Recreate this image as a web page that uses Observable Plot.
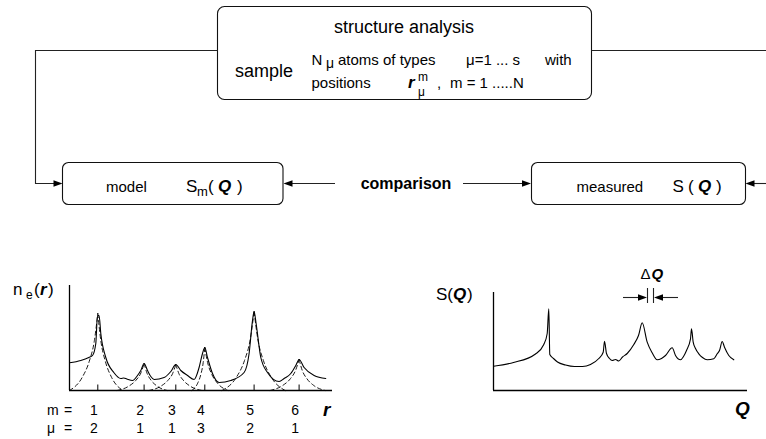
<!DOCTYPE html>
<html><head><meta charset="utf-8">
<script src="https://cdn.jsdelivr.net/npm/d3@7"></script>
<script src="https://cdn.jsdelivr.net/npm/@observablehq/plot@0.6"></script>
<style>
html,body{margin:0;padding:0;background:#fff;}
#wrap{position:relative;width:766px;height:439px;overflow:hidden;font-family:"Liberation Sans",Arial,Helvetica,sans-serif;}
#wrap > svg{position:absolute;}
</style></head><body>
<div id="wrap"></div>
<script>
// ---------- data: electron density n_e(r) ----------
const peakR   = [2.83, 7.46, 10.63, 13.53, 18.46, 22.96];
const mLabels = ["1", "2", "3", "4", "5", "6"];
const muLabels = ["2", "1", "1", "3", "2", "1"];

const solidR = [0, 1.13, 1.93, 2.3, 2.63, 2.8, 2.96, 3.13, 3.63, 4.43, 5.13, 5.43, 5.73, 6.3, 6.8, 7.13, 7.46, 7.8, 8.13, 8.46, 9.46, 10.13, 10.63, 11.13, 11.8, 12.46, 12.96, 13.3, 13.53, 13.8, 14.3, 14.96, 16.13, 17.46, 17.96, 18.3, 18.46, 18.66, 19.13, 19.8, 20.96, 21.46, 22.13, 22.63, 22.96, 23.46, 24.46, 25.63];
const solidN = [2.77, 3.0, 3.3, 3.5, 4.7, 7.5, 7.5, 5.7, 3.3, 1.8, 1.2, 1.25, 1.15, 1.0, 1.5, 2.0, 2.7, 2.0, 1.4, 1.1, 1.3, 1.9, 2.6, 2.0, 1.5, 1.1, 2.3, 3.7, 4.3, 3.3, 1.7, 0.8, 1.0, 1.8, 3.7, 7.0, 7.9, 6.7, 3.3, 1.8, 0.9, 1.2, 1.7, 2.5, 3.1, 2.3, 1.5, 1.2];

// single-atom contributions (dashed), one branch per array
const dashR = [
  [0, 1.27, 1.98, 2.49, 2.83], [2.83, 3.13, 3.58, 4.21, 5.33],
  [4.76, 5.97, 6.65, 7.14, 7.46], [7.46, 7.74, 8.15, 8.73, 9.76],
  [7.93, 9.15, 9.82, 10.31, 10.63], [10.63, 10.94, 11.41, 12.06, 13.23],
  [12.23, 12.82, 13.14, 13.37, 13.53], [13.53, 13.81, 14.22, 14.8, 15.83],
  [15.26, 16.7, 17.5, 18.08, 18.46], [18.46, 18.83, 19.39, 20.17, 21.56],
  [20.06, 21.36, 22.09, 22.61, 22.96], [22.96, 23.27, 23.74, 24.39, 25.56]
];
const dashN = [
  [0, 1.31, 2.93, 5.0, 7.7], [7.7, 5.0, 2.93, 1.31, 0],
  [0, 0.46, 1.03, 1.76, 2.7], [2.7, 1.76, 1.03, 0.46, 0],
  [0, 0.44, 0.99, 1.69, 2.6], [2.6, 1.69, 0.99, 0.44, 0],
  [0, 0.73, 1.63, 2.8, 4.3], [4.3, 2.8, 1.63, 0.73, 0],
  [0, 1.34, 3.0, 5.14, 7.9], [7.9, 5.14, 3.0, 1.34, 0],
  [0, 0.53, 1.18, 2.02, 3.1], [3.1, 2.02, 1.18, 0.53, 0]
];

// ---------- data: measured S(Q) ----------
const sQ = [0, 2.0, 4.2, 5.03, 5.37, 5.53, 5.63, 6.0, 6.4, 7.2, 8.1, 8.9, 9.7, 10.53, 10.97, 11.1, 11.3, 11.6, 11.87, 12.2, 12.53, 12.9, 13.37, 14.03, 14.5, 14.87, 15.37, 15.85, 16.37, 16.8, 17.2, 17.87, 18.2, 18.7, 19.0, 19.3, 19.7, 19.8, 19.97, 20.2, 20.53, 20.9, 21.37, 22.03, 22.37, 22.6, 22.87, 23.1, 23.53, 24.03];
const sS = [2.43, 2.8, 3.65, 4.6, 5.7, 8.17, 3.6, 3.2, 2.85, 2.55, 2.4, 2.4, 2.6, 3.2, 3.83, 4.93, 3.7, 3.2, 3.0, 3.1, 2.95, 3.35, 3.7, 4.6, 5.5, 6.77, 4.83, 3.8, 3.07, 3.2, 3.5, 4.27, 3.5, 3.07, 3.4, 4.0, 5.17, 6.17, 4.83, 4.2, 3.67, 3.3, 3.07, 3.17, 3.67, 4.0, 4.9, 4.33, 3.5, 3.07];

// ---------- build tables ----------
const solidData = solidR.map((r, i) => ({r, n: solidN[i]}));
const dashData = dashR.flatMap((xs, b) => xs.map((r, i) => ({r, n: dashN[b][i], branch: b})));
const peakData = peakR.map((r, i) => ({r, m: mLabels[i], mu: muLabels[i]}));
const sData = sQ.map((q, i) => ({q, s: sS[i]}));

const FONT = '"Liberation Sans", Arial, Helvetica, sans-serif';
const wrap = document.getElementById("wrap");

// ---------- left chart: n_e(r) ----------
const left = Plot.plot({
  width: 380, height: 189,
  marginLeft: 69, marginRight: 48, marginTop: 35, marginBottom: 49,
  x: {domain: [0, 26.3], axis: null},
  y: {domain: [0, 10.5], axis: null},
  style: {background: "transparent", overflow: "visible", fontFamily: FONT},
  marks: [
    Plot.ruleY([0], {x1: 0, x2: 26.3, stroke: "#000", strokeWidth: 1.3}),
    Plot.ruleX([0], {y1: 0, y2: 10.5, stroke: "#000", strokeWidth: 1.3}),
    Plot.ruleX(peakData, {x: "r", y1: 0, y2: 0.55, stroke: "#000", strokeWidth: 1}),
    Plot.line(dashData, {x: "r", y: "n", z: "branch", curve: "monotone-x", stroke: "#000", strokeWidth: 0.9, strokeDasharray: "4,3"}),
    Plot.line(solidData, {x: "r", y: "n", curve: "monotone-x", stroke: "#000", strokeWidth: 1.1}),
    Plot.text(peakData, {x: "r", y: 0, text: "m", dy: 20, dx: -4, fontSize: 14, fill: "#000"}),
    Plot.text(peakData, {x: "r", y: 0, text: "mu", dy: 38, dx: -4, fontSize: 14, fill: "#000"})
  ]
});
left.style.left = "0px"; left.style.top = "250px";
wrap.appendChild(left);

// ---------- right chart: S(Q) ----------
const right = Plot.plot({
  width: 366, height: 189,
  marginLeft: 93, marginRight: 19, marginTop: 42, marginBottom: 49,
  x: {domain: [0, 25.4], axis: null},
  y: {domain: [0, 9.8], axis: null},
  style: {background: "transparent", overflow: "visible", fontFamily: FONT},
  marks: [
    Plot.ruleY([0], {x1: 0, x2: 25.4, stroke: "#000", strokeWidth: 1.3}),
    Plot.ruleX([0], {y1: 0, y2: 9.8, stroke: "#000", strokeWidth: 1.3}),
    Plot.line(sData, {x: "q", y: "s", curve: "monotone-x", stroke: "#000", strokeWidth: 1.1})
  ]
});
right.style.left = "400px"; right.style.top = "250px";
wrap.appendChild(right);

// ---------- overlay: flow diagram and rich labels ----------
const svg = d3.select(wrap).append("svg")
  .attr("width", 766).attr("height", 439)
  .style("left", "0px").style("top", "0px")
  .attr("font-family", FONT);

function rbox(x, y, w, h, r) {
  svg.append("rect").attr("x", x).attr("y", y).attr("width", w).attr("height", h)
    .attr("rx", r).attr("fill", "none").attr("stroke", "#111").attr("stroke-width", 1.1);
}
function path(d) {
  svg.append("path").attr("d", d).attr("fill", "none").attr("stroke", "#222").attr("stroke-width", 1.1);
}
function head(x, y, dir) {
  const L = 9, W = 3.2;
  svg.append("path").attr("d", `M${x},${y}L${x - dir * L},${y - W}L${x - dir * L},${y + W}Z`).attr("fill", "#000");
}
function txt(x, y, s, o = {}) {
  const t = svg.append("text").attr("x", x).attr("y", y).text(s)
    .attr("font-size", o.size || 15).attr("fill", "#000");
  if (o.bold) t.attr("font-weight", "bold");
  if (o.italic) t.attr("font-style", "italic");
  if (o.anchor) t.attr("text-anchor", o.anchor);
  return t;
}

// boxes
rbox(217.5, 6.5, 374, 93, 7);
rbox(62.5, 162.5, 220.5, 42, 6);
rbox(531.5, 162.5, 214, 42, 6);

// connectors
path("M217.5,50.5H35.5V183.5H55");
head(62.5, 183.5, 1);
path("M591.5,50.5H770");
path("M770,183.5H753");
head(745.5, 183.5, -1);
path("M335,183.5H291");
head(283.5, 183.5, -1);
path("M463,183.5H523");
head(531, 183.5, 1);

// top box text
txt(404, 33, "structure analysis", {size: 18, anchor: "middle"});
txt(235, 77, "sample", {size: 18});
txt(311.5, 64.5, "N", {size: 15});
txt(326, 67.5, "μ", {size: 14});
txt(338, 64.5, "atoms of types", {size: 15});
txt(466, 64.5, "μ=1 ... s", {size: 15});
txt(545, 64.5, "with", {size: 15});
txt(311.5, 87.5, "positions", {size: 15});
txt(408, 87.5, "r", {size: 17, bold: true, italic: true});
txt(418, 80.5, "m", {size: 12});
txt(418, 96, "μ", {size: 12});
txt(437, 87.5, ",", {size: 15});
txt(450, 87.5, "m = 1 .....N", {size: 15});

// model / comparison / measured
txt(106, 192, "model", {size: 15});
txt(186, 192, "S", {size: 17});
txt(197, 196, "m", {size: 13});
txt(208, 192, "(", {size: 17});
txt(218, 192, "Q", {size: 17, bold: true, italic: true});
txt(237, 192, ")", {size: 17});
txt(406, 189, "comparison", {size: 16, bold: true, anchor: "middle"});
txt(576.5, 192, "measured", {size: 15});
txt(672.5, 192, "S", {size: 17});
txt(688, 192, "(", {size: 17});
txt(698, 192, "Q", {size: 17, bold: true, italic: true});
txt(716, 192, ")", {size: 17});

// left chart labels
txt(13, 295, "n", {size: 17});
txt(26, 299, "e", {size: 12});
txt(34, 295, "(", {size: 17});
txt(40, 295, "r", {size: 17, bold: true, italic: true});
txt(48, 295, ")", {size: 17});
txt(47, 415, "m", {size: 14});
txt(64, 415, "=", {size: 14});
txt(47, 433, "μ", {size: 14});
txt(64, 433, "=", {size: 14});
txt(323, 416, "r", {size: 19, bold: true, italic: true});

// right chart labels
txt(436, 300, "S(", {size: 17});
txt(453, 300, "Q", {size: 17, bold: true, italic: true});
txt(467, 300, ")", {size: 17});
txt(735, 415, "Q", {size: 19, bold: true, italic: true});
txt(640.5, 278.5, "Δ", {size: 15});
txt(651.5, 278.5, "Q", {size: 15, bold: true, italic: true});
path("M623,297.5H640");
head(647, 297.5, 1);
path("M647.5,288V303");
path("M653.5,288V303");
path("M678,297.5H661");
head(654, 297.5, -1);
</script>
</body></html>
